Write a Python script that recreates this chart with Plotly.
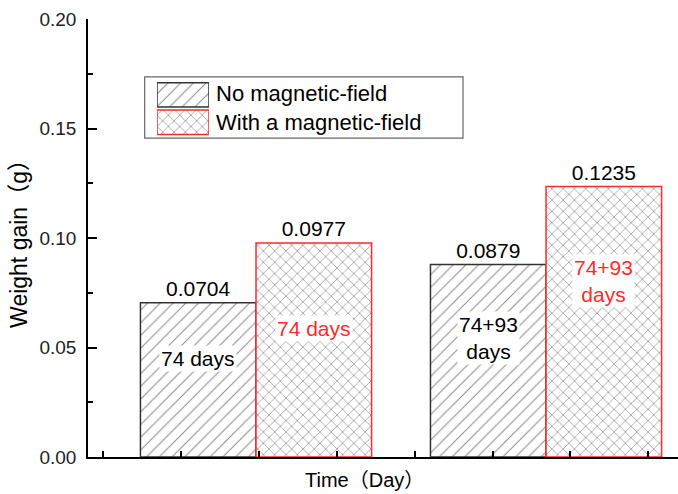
import plotly.graph_objects as go

# ---- data ----
groups = [1, 2]                       # two time points
series_names = ["No magnetic-field", "With a magnetic-field"]
no_field = [0.0704, 0.0879]
with_field = [0.0977, 0.1235]
inner_labels = ["74 days", "74+93<br>days"]
y_ticks = [0.00, 0.05, 0.10, 0.15, 0.20]
y_tick_text = ["0.00", "0.05", "0.10", "0.15", "0.20"]

# ---- style ----
FONT = "Arial, Liberation Sans, Noto Sans CJK SC, sans-serif"
RED = "#ff2a2a"
HATCH = "#111111"
BARGAP = 0.203
offset = (1 - BARGAP) / 4

fig = go.Figure()
styles = [
    dict(shape="/", line="#333333", size=9, solidity=0.11),
    dict(shape="x", line=RED, size=8, solidity=0.16),
]
for name, vals, st in zip(series_names, [no_field, with_field], styles):
    fig.add_trace(go.Bar(
        x=groups, y=vals, name=name, showlegend=False,
        marker=dict(color="white",
                    line=dict(color=st["line"], width=1.5),
                    pattern=dict(shape=st["shape"], fgcolor=HATCH, bgcolor="white",
                                 size=st["size"], solidity=st["solidity"])),
        text=[f"{v:.4f}" for v in vals], textposition="outside",
        textfont=dict(family=FONT, size=21, color="black"), cliponaxis=False,
    ))

# legend patches drawn in a tiny helper subplot
for i, (name, st) in enumerate(zip(series_names, styles)):
    fig.add_trace(go.Bar(
        x=[1], y=[i], orientation="h", width=0.89, showlegend=False,
        xaxis="x2", yaxis="y2", hoverinfo="skip",
        marker=dict(color="white",
                    line=dict(color=st["line"], width=1.5),
                    pattern=dict(shape=st["shape"], fgcolor=HATCH, bgcolor="white",
                                 size=st["size"], solidity=st["solidity"])),
    ))

annotations = []
# inner labels (white boxed text inside bars)
inner_frac = [[0.64, 0.62], [0.60, 0.65]]
colors = ["black", RED]
for s, vals in enumerate([no_field, with_field]):
    for g, v in enumerate(vals):
        annotations.append(dict(
            x=groups[g] + (-offset if s == 0 else offset), y=v * inner_frac[s][g],
            xref="x", yref="y", text=inner_labels[g], showarrow=False,
            font=dict(family=FONT, size=21, color=colors[s]),
            bgcolor="white", borderpad=1))
# legend text
for i, name in enumerate(series_names):
    annotations.append(dict(
        x=0.2135, y=[0.831, 0.7626][i], xref="paper", yref="paper",
        xanchor="left", yanchor="middle", text=name, showarrow=False,
        font=dict(family=FONT, size=22, color="black")))
# x-axis title
annotations.append(dict(
    x=0.468, y=-0.0525, xref="paper", yref="paper", text="Time（Day）",
    showarrow=False, yanchor="middle",
    font=dict(family=FONT, size=20, color="black")))

fig.update_layout(
    width=678, height=494,
    margin=dict(l=88, r=0, t=19, b=37, autoexpand=False),
    paper_bgcolor="white", plot_bgcolor="white",
    barmode="group", bargap=BARGAP, bargroupgap=0,
    font=dict(family=FONT, size=18, color="black"),
    annotations=annotations,
    shapes=[dict(type="rect", xref="paper", yref="paper",
                 x0=0.0961, x1=0.6356, y0=0.728, y1=0.868,
                 line=dict(color="#666666", width=1.2), fillcolor="rgba(0,0,0,0)",
                 layer="below")],
    xaxis=dict(range=[0.4207, 2.455], showline=True, linecolor="black", linewidth=1.5,
               ticks="inside", ticklen=6, tickcolor="black", tickwidth=1.5,
               tick0=1.01, dtick=0.2685, showticklabels=False,
               showgrid=False, zeroline=False),
    yaxis=dict(range=[0, 0.2], showline=True, linecolor="black", linewidth=1.5,
               tickmode="array", tickvals=y_ticks, ticktext=y_tick_text,
               ticks="inside", ticklen=9, tickcolor="black", tickwidth=1.5,
               minor=dict(ticks="inside", ticklen=5, tickcolor="black", tickwidth=1.5,
                          tickvals=[0.025, 0.075, 0.125, 0.175]),
               ticklabelstandoff=6,
               tickfont=dict(family=FONT, size=19, color="#222222"),
               title=dict(text="Weight gain（g）", standoff=5,
                          font=dict(family=FONT, size=23, color="black")),
               showgrid=False, zeroline=False),
    xaxis2=dict(domain=[0.117, 0.205], anchor="y2", range=[0, 1], visible=False),
    yaxis2=dict(domain=[0.733, 0.858], anchor="x2", range=[1.5, -0.5], visible=False),
)

fig.write_html("out.html", config={"displayModeBar": False},
               post_script="document.body.style.margin='0px';")
